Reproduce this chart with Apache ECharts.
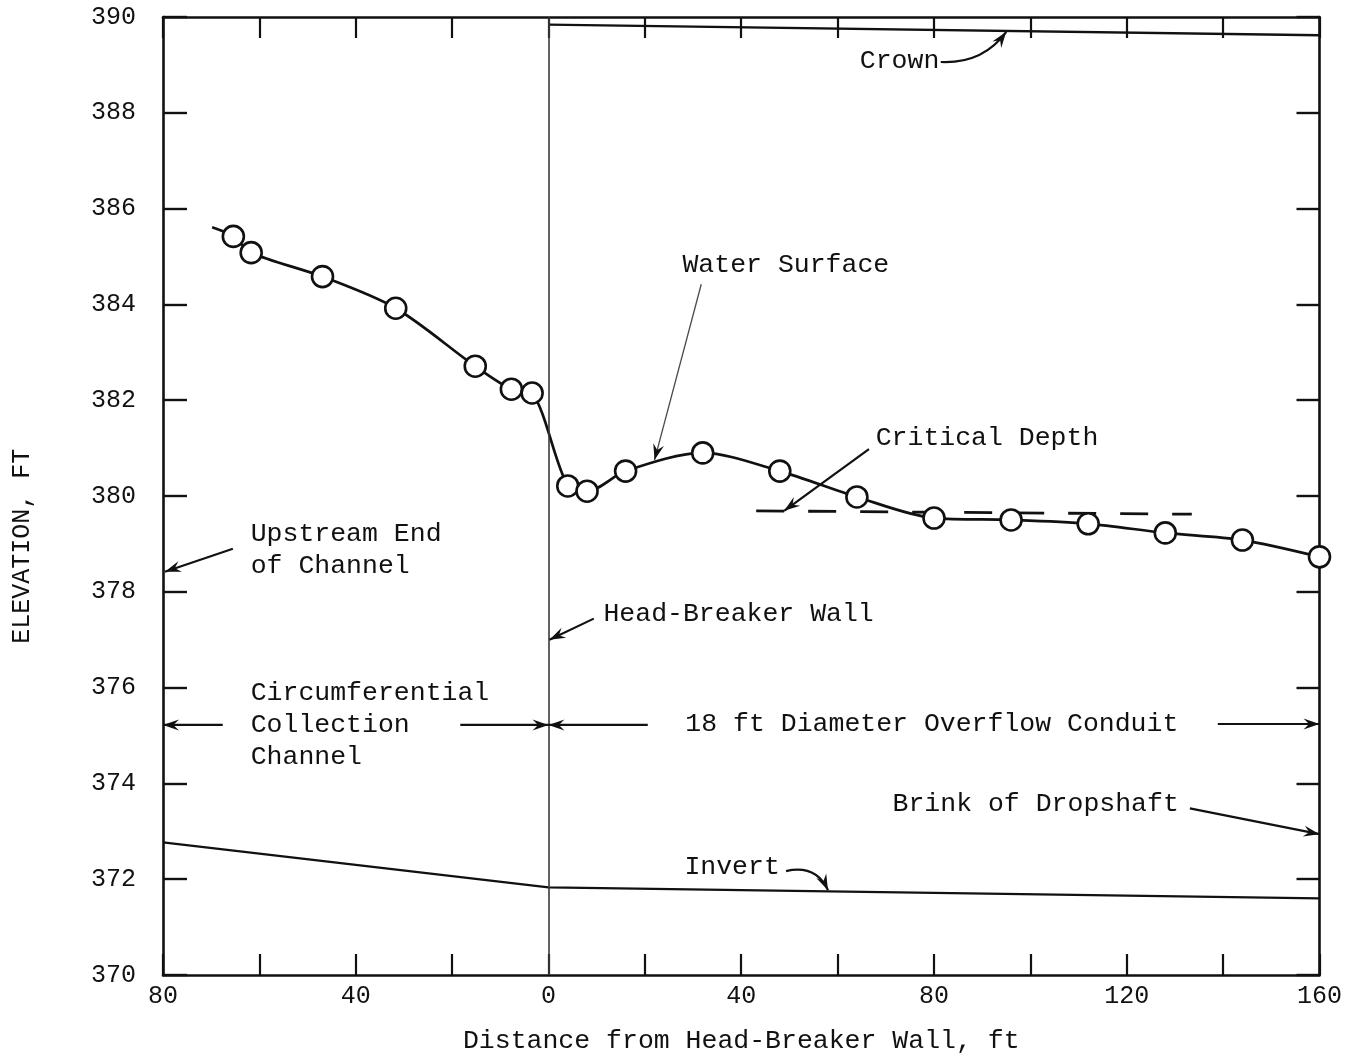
<!DOCTYPE html>
<html>
<head>
<meta charset="utf-8">
<script src="https://cdn.jsdelivr.net/npm/echarts@6/dist/echarts.min.js"></script>
<style>
  html, body { margin: 0; padding: 0; background: #ffffff; overflow: hidden; }
  #chart { width: 100vw; height: 100vh; }
</style>
</head>
<body>
<div id="chart"></div>
<script>
// Distance from the head-breaker wall, ft (negative = upstream, in the collection channel)
const gaugeStations = [-65.4, -61.7, -46.9, -31.7, -15.2, -7.7, -3.4, 4, 8, 16, 32, 48, 64, 80, 96, 112, 128, 144, 160];
// Observed water-surface elevation at each gauge, ft
const gaugeElevations = [385.42, 385.08, 384.58, 383.92, 382.71, 382.23, 382.15, 380.21, 380.10, 380.52, 380.90, 380.52, 379.98, 379.54, 379.50, 379.42, 379.23, 379.08, 378.73];
// The faired water-surface curve begins slightly upstream of the first gauge
const curveStartStation = -69.8;
const curveStartElevation = 385.61;

// Conduit crown (downstream of the wall only)
const crownStations = [0, 160];
const crownElevations = [389.84, 389.62];

// Channel / conduit invert
const invertStations = [-80, 0, 160];
const invertElevations = [372.77, 371.83, 371.60];

// Critical depth line
const criticalStations = [43.1, 133.5];
const criticalElevations = [379.69, 379.62];

// Distance axis: tick values and their printed labels (distances on both sides are positive)
const xTickValues = [-80, -40, 0, 40, 80, 120, 160];
const xTickLabels = ['80', '40', '0', '40', '80', '120', '160'];

const FONT = "'Liberation Mono', 'DejaVu Sans Mono', monospace";
const INK = '#111111';

const pairs = (xs, ys) => xs.map((x, i) => [x, ys[i]]);
const tickLabelOf = {};
xTickValues.forEach((v, i) => { tickLabelOf[v] = xTickLabels[i]; });

const frameAxis = (extra) => Object.assign({
  type: 'value',
  axisLine: { show: true, onZero: false, lineStyle: { color: INK, width: 2.6 } },
  axisTick: { show: true, inside: true, lineStyle: { color: INK, width: 2.2 } },
  splitLine: { show: false },
  axisLabel: { show: false }
}, extra);

const option = {
  animation: false,
  backgroundColor: '#ffffff',
  grid: { left: 163, right: 22, top: 17, bottom: 82, containLabel: false },
  xAxis: [
    frameAxis({
      min: -80, max: 160, interval: 20, position: 'bottom',
      axisTick: { show: true, inside: true, length: 21, lineStyle: { color: INK, width: 2.2 } },
      axisLabel: {
        show: true, margin: 9, color: INK, fontFamily: FONT, fontSize: 25,
        formatter: v => (tickLabelOf[v] !== undefined ? tickLabelOf[v] : '')
      },
      name: 'Distance from Head-Breaker Wall, ft',
      nameLocation: 'middle', nameGap: 52,
      nameTextStyle: { color: INK, fontFamily: FONT, fontSize: 26.5 }
    }),
    frameAxis({
      min: -80, max: 160, interval: 20, position: 'top',
      axisTick: { show: true, inside: true, length: 21, lineStyle: { color: INK, width: 2.2 } }
    })
  ],
  yAxis: [
    frameAxis({
      min: 370, max: 390, interval: 2, position: 'left',
      axisTick: { show: true, inside: true, length: 24, lineStyle: { color: INK, width: 2.4 } },
      axisLabel: { show: true, margin: 27, color: INK, fontFamily: FONT, fontSize: 25 }
    }),
    frameAxis({
      min: 370, max: 390, interval: 2, position: 'right',
      axisTick: { show: true, inside: true, length: 23, lineStyle: { color: INK, width: 2.4 } }
    })
  ],
  series: [
    {
      name: 'Crown', type: 'line', data: pairs(crownStations, crownElevations),
      showSymbol: false, lineStyle: { color: INK, width: 2.4 }, silent: true,
      markLine: {
        silent: true, symbol: ['none', 'none'], label: { show: false },
        lineStyle: { color: '#3a3a3a', width: 1.6, type: 'solid' },
        data: [{ xAxis: 0 }]
      }
    },
    {
      name: 'Invert', type: 'line', data: pairs(invertStations, invertElevations),
      showSymbol: false, lineStyle: { color: INK, width: 2.4 }, silent: true
    },
    {
      name: 'Critical Depth', type: 'line', data: pairs(criticalStations, criticalElevations),
      showSymbol: false, lineStyle: { color: INK, width: 2.8, type: [28, 24] }, silent: true
    },
    {
      name: 'Water Surface', type: 'line',
      data: [[curveStartStation, curveStartElevation]].concat(pairs(gaugeStations, gaugeElevations)),
      smooth: 0.3, showSymbol: false,
      lineStyle: { color: INK, width: 2.7 }, silent: true, z: 3
    },
    {
      name: 'Gauges', type: 'scatter', data: pairs(gaugeStations, gaugeElevations),
      symbol: 'circle', symbolSize: 21, z: 5,
      itemStyle: { color: '#ffffff', borderColor: INK, borderWidth: 2.6, opacity: 1 }
    }
  ]
};

const chart = echarts.init(document.getElementById('chart'), null, { renderer: 'canvas' });
chart.setOption(option);

// Annotation text, anchored at its left edge / vertical middle, in axis units
const notes = [
  { text: 'Crown', at: [64.6, 389.08] },
  { text: 'Water Surface', at: [27.8, 384.83] },
  { text: 'Critical Depth', at: [67.9, 381.21] },
  { text: 'Upstream End', at: [-61.8, 379.21] },
  { text: 'of Channel', at: [-61.8, 378.54] },
  { text: 'Head-Breaker Wall', at: [11.4, 377.54] },
  { text: 'Circumferential', at: [-61.8, 375.88] },
  { text: 'Collection', at: [-61.8, 375.21] },
  { text: 'Channel', at: [-61.8, 374.56] },
  { text: '18 ft Diameter Overflow Conduit', at: [28.4, 375.23] },
  { text: 'Brink of Dropshaft', at: [71.4, 373.56] },
  { text: 'Invert', at: [28.2, 372.25] }
];

// Leader arrows (tail -> tip), optional control point for curved leaders, in axis units
const leaders = [
  { from: [81.4, 389.06], via: [90.1, 389.02], to: [95.0, 389.69] },
  { from: [31.7, 384.42], to: [22.0, 380.75], thin: true },
  { from: [66.5, 380.98], to: [48.9, 379.69] },
  { from: [-65.5, 378.90], to: [-79.6, 378.42] },
  { from: [9.4, 377.44], to: [0.2, 377.00] },
  { from: [-67.6, 375.22], to: [-80, 375.22] },
  { from: [-18.3, 375.22], to: [0, 375.22] },
  { from: [20.6, 375.22], to: [0, 375.22] },
  { from: [138.9, 375.24], to: [160, 375.24] },
  { from: [133.1, 373.48], to: [160, 372.94] },
  { from: [49.3, 372.17], via: [55.5, 372.31], to: [58.0, 371.77] }
];

const toPx = p => chart.convertToPixel({ xAxisIndex: 0, yAxisIndex: 0 }, p);

function arrowHead(tip, back) {
  const dx = tip[0] - back[0], dy = tip[1] - back[1];
  const len = Math.hypot(dx, dy) || 1;
  const ux = dx / len, uy = dy / len;
  const nx = -uy, ny = ux;
  const L = 16, W = 5.5;
  return [
    tip,
    [tip[0] - L * ux + W * nx, tip[1] - L * uy + W * ny],
    [tip[0] - 0.65 * L * ux, tip[1] - 0.65 * L * uy],
    [tip[0] - L * ux - W * nx, tip[1] - L * uy - W * ny]
  ];
}

const graphics = [];

notes.forEach(n => {
  const p = toPx(n.at);
  graphics.push({
    type: 'text', x: p[0], y: p[1], silent: true, z: 10,
    style: { text: n.text, fill: INK, fontFamily: FONT, fontSize: 26.5, align: 'left', verticalAlign: 'middle' }
  });
});

leaders.forEach(a => {
  const s = toPx(a.from), e = toPx(a.to);
  const stroke = a.thin ? '#4a4a4a' : INK;
  const width = a.thin ? 1.3 : 2.2;
  if (a.via) {
    const c = toPx(a.via);
    graphics.push({
      type: 'bezierCurve', silent: true, z: 10,
      shape: { x1: s[0], y1: s[1], x2: e[0], y2: e[1], cpx1: c[0], cpy1: c[1] },
      style: { stroke: stroke, lineWidth: width, fill: null }
    });
    graphics.push({ type: 'polygon', silent: true, z: 11, shape: { points: arrowHead(e, c) }, style: { fill: INK } });
  } else {
    graphics.push({
      type: 'line', silent: true, z: 10,
      shape: { x1: s[0], y1: s[1], x2: e[0], y2: e[1] },
      style: { stroke: stroke, lineWidth: width }
    });
    graphics.push({ type: 'polygon', silent: true, z: 11, shape: { points: arrowHead(e, s) }, style: { fill: INK } });
  }
});

// Vertical axis title, reading bottom to top, centred beside the plot
const titleAnchor = toPx([-80, 378.95]);
graphics.push({
  type: 'text', x: 22, y: titleAnchor[1], rotation: Math.PI / 2, silent: true,
  style: { text: 'ELEVATION, FT', fill: INK, fontFamily: FONT, fontSize: 25, align: 'center', verticalAlign: 'middle' }
});

chart.setOption({ graphic: graphics });
</script>
</body>
</html>
